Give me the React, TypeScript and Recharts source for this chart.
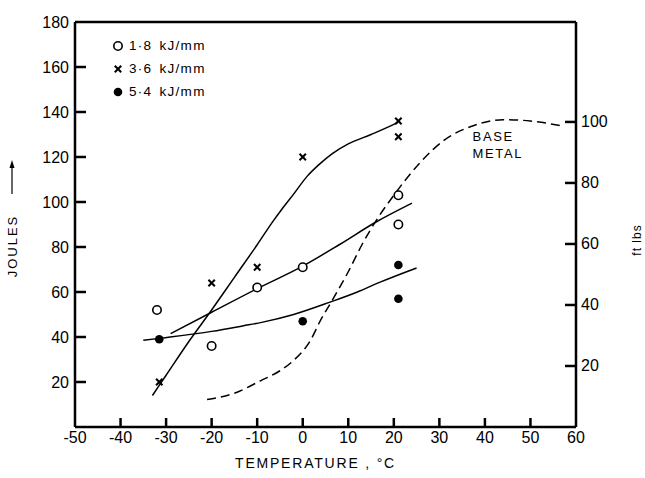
import React from 'react';
import { ComposedChart, Line, Scatter, XAxis, YAxis, ReferenceLine, ReferenceDot, Legend } from 'recharts';

const FONT = '"Liberation Sans", Arial, sans-serif';

const tempTicks = [-50, -40, -30, -20, -10, 0, 10, 20, 30, 40, 50, 60];
const jouleTicks = [20, 40, 60, 80, 100, 120, 140, 160, 180];
const ftlbTicks = [20, 40, 60, 80, 100];
const J_PER_FTLB = 1.3558;

// measured points
const open18X = [-32, -20, -10, 0, 21, 21];
const open18Y = [52, 36, 62, 71, 103, 90];
const cross36X = [-31.5, -20, -10, 0, 21, 21];
const cross36Y = [20, 64, 71, 120, 136, 129];
const dot54X = [-31.5, 0, 21, 21];
const dot54Y = [39, 47, 72, 57];

// fitted curves
const curve18X = [-29, -20, -10, 0, 8, 16, 24];
const curve18Y = [41.5, 51, 61.5, 71.5, 81, 91, 99.5];
const curve36X = [-33, -30, -25, -20, -15, -10, -6.5, -4.5, -2, 1, 3.5, 6.5, 10, 15, 20, 21];
const curve36Y = [14, 23, 38, 52, 66.5, 81, 91.5, 97, 103.5, 111.5, 116.5, 121.5, 125.8, 130, 134.5, 135.5];
const curve54X = [-35, -31, -20, -13, -9, -2, 6, 12, 17, 25];
const curve54Y = [38.5, 39.5, 42.5, 45, 46.5, 50, 55.5, 60, 64.4, 70.7];
const baseX = [-21, -15, -9.3, -5, -2, 1.7, 3.9, 6.1, 10, 13, 16.4, 20, 25.9, 31, 37.6, 44, 50, 57.4];
const baseY = [12.2, 15, 20.5, 25, 29.6, 38.5, 47.4, 55, 69, 81, 92.6, 103, 117.8, 127.4, 134, 136.6, 136, 133.6];

const legendLabels = ['1·8 kJ/mm', '3·6 kJ/mm', '5·4 kJ/mm'];
const legendKinds = ['open', 'cross', 'filled'];

const pts = (xs: number[], ys: number[]) => xs.map((x, i) => ({ x, y: ys[i] }));

const OpenMark = (p: any) => (
  <circle cx={p.cx} cy={p.cy} r={4.2} fill="#fff" stroke="#000" strokeWidth={1.6} />
);
const CrossMark = (p: any) => (
  <g stroke="#000" strokeWidth={2}>
    <line x1={p.cx - 3.2} y1={p.cy - 3.2} x2={p.cx + 3.2} y2={p.cy + 3.2} />
    <line x1={p.cx - 3.2} y1={p.cy + 3.2} x2={p.cx + 3.2} y2={p.cy - 3.2} />
  </g>
);
const FilledMark = (p: any) => <circle cx={p.cx} cy={p.cy} r={4.3} fill="#000" />;

const symbolFor = (kind: string) => {
  if (kind === 'open') return <OpenMark cx={6} cy={6} />;
  if (kind === 'cross') return <CrossMark cx={6} cy={6} />;
  return <FilledMark cx={6} cy={6} />;
};

const LegendContent = () => (
  <div style={{ fontFamily: FONT, fontSize: 13.5, color: '#000' }}>
    {legendLabels.map((lab, i) => (
      <div key={lab} style={{ display: 'flex', alignItems: 'center', height: 23 }}>
        <svg width={12} height={12}>{symbolFor(legendKinds[i])}</svg>
        <span style={{ marginLeft: 5, letterSpacing: 1.3, wordSpacing: 2 }}>{lab}</span>
      </div>
    ))}
  </div>
);

const TICK_FONT = 16;

const LeftTick = (p: any) => {
  const v = p.payload.value;
  return (
    <g>
      {v < 180 && <path d={`M ${p.x + 6} ${p.y} H ${p.x + 17}`} stroke="#000" strokeWidth={2.5} />}
      <text x={p.x} y={p.y} textAnchor="end" dominantBaseline="central" fontFamily={FONT}
        fontSize={TICK_FONT} fill="#000">{v}</text>
    </g>
  );
};

const RightTick = (p: any) => {
  const v = p.payload.value;
  return (
    <g>
      <path d={`M ${p.x - 5} ${p.y} H ${p.x - 16}`} stroke="#000" strokeWidth={2.5} />
      <text x={p.x} y={p.y} textAnchor="start" dominantBaseline="central" fontFamily={FONT}
        fontSize={TICK_FONT} fill="#000">{v}</text>
    </g>
  );
};

const BottomTick = (p: any) => {
  const v = p.payload.value;
  const inner = v > -50 && v < 60;
  return (
    <g>
      {inner && <path d={`M ${p.x} ${p.y - 4} V ${p.y - 13}`} stroke="#000" strokeWidth={2.5} />}
      <text x={p.x} y={p.y} dy="0.75em" textAnchor="middle" fontFamily={FONT} fontSize={TICK_FONT}
        fill="#000">{v < 0 ? `-${Math.abs(v)}` : `${v}`}</text>
    </g>
  );
};

const JoulesLabel = (props: any) => {
  const vb = props.viewBox || { x: 30, y: 22, width: 45, height: 405 };
  const x = vb.x - 18;
  const y = vb.y + 224;
  return (
    <g>
      <text x={x} y={y} transform={`rotate(-90 ${x} ${y})`} textAnchor="middle" dominantBaseline="central"
        fontFamily={FONT} fontSize={13} letterSpacing={2} fill="#000">JOULES</text>
      <line x1={x} y1={y - 52} x2={x} y2={y - 80} stroke="#000" strokeWidth={1.2} />
      <path d={`M ${x - 2.5} ${y - 78} L ${x} ${y - 86} L ${x + 2.5} ${y - 78} Z`} fill="#000" />
    </g>
  );
};

const FtLbLabel = (props: any) => {
  const vb = props.viewBox || { x: 576, y: 22, width: 40, height: 405 };
  const x = vb.x + 61;
  const y = vb.y + 218;
  return (
    <text x={x} y={y} transform={`rotate(-90 ${x} ${y})`} textAnchor="middle" dominantBaseline="central"
      fontFamily={FONT} fontSize={12} letterSpacing={1} fill="#000">ft  lbs</text>
  );
};

const TempLabel = (props: any) => {
  const vb = props.viewBox || { x: 75, y: 427, width: 501, height: 30 };
  const x = vb.x + vb.width / 2 - 10;
  const y = vb.y + 36;
  return (
    <text x={x} y={y} textAnchor="middle" dominantBaseline="central" fontFamily={FONT} fontSize={14}
      letterSpacing={1.8} fill="#000">TEMPERATURE ,  °C</text>
  );
};

const TextAt = (txt: string) => (props: any) => {
  const vb = props.viewBox;
  return (
    <text x={vb.x} y={vb.y} dominantBaseline="central" fontFamily={FONT} fontSize={13}
      letterSpacing={1.6} fill="#000">{txt}</text>
  );
};

const axisStroke = { stroke: '#000', strokeWidth: 2.5 };

export default function App() {
  return (
    <div style={{ position: 'absolute', left: 0, top: 0, background: '#fff' }}>
      <ComposedChart width={645} height={478} margin={{ top: 22, right: 29, bottom: 21, left: 30 }}>
        <XAxis type="number" dataKey="x" domain={[-50, 60]} ticks={tempTicks} interval={0}
          height={30} tick={<BottomTick />} axisLine={axisStroke} tickLine={false}
          tickSize={0} tickMargin={4} label={<TempLabel />} />
        <YAxis yAxisId="j" type="number" dataKey="y" domain={[0, 180]} ticks={jouleTicks} interval={0}
          width={45} tick={<LeftTick />} axisLine={axisStroke} tickLine={false}
          tickSize={0} tickMargin={6} label={<JoulesLabel />} />
        <YAxis yAxisId="ft" orientation="right" type="number" domain={[0, 180 / J_PER_FTLB]}
          ticks={ftlbTicks} interval={0} width={40} tick={<RightTick />} axisLine={axisStroke}
          tickLine={false} tickSize={0} tickMargin={5} allowDataOverflow label={<FtLbLabel />} />
        <ReferenceLine yAxisId="j" y={180} stroke="#000" strokeWidth={2.5} />

        <Line yAxisId="j" data={pts(curve18X, curve18Y)} dataKey="y" type="monotone" stroke="#000"
          strokeWidth={1.5} dot={false} isAnimationActive={false} legendType="none" />
        <Line yAxisId="j" data={pts(curve36X, curve36Y)} dataKey="y" type="monotone" stroke="#000"
          strokeWidth={1.5} dot={false} isAnimationActive={false} legendType="none" />
        <Line yAxisId="j" data={pts(curve54X, curve54Y)} dataKey="y" type="monotone" stroke="#000"
          strokeWidth={1.5} dot={false} isAnimationActive={false} legendType="none" />
        <Line yAxisId="j" data={pts(baseX, baseY)} dataKey="y" type="monotone" stroke="#000"
          strokeWidth={1.5} strokeDasharray="9 5" dot={false} isAnimationActive={false} legendType="none" />

        <Scatter yAxisId="j" data={pts(open18X, open18Y)} dataKey="y" shape={OpenMark} isAnimationActive={false} />
        <Scatter yAxisId="j" data={pts(cross36X, cross36Y)} dataKey="y" shape={CrossMark} isAnimationActive={false} />
        <Scatter yAxisId="j" data={pts(dot54X, dot54Y)} dataKey="y" shape={FilledMark} isAnimationActive={false} />

        <ReferenceDot yAxisId="j" x={37.3} y={129.2} r={0} stroke="none" label={TextAt('BASE')} />
        <ReferenceDot yAxisId="j" x={37.3} y={121.6} r={0} stroke="none" label={TextAt('METAL')} />

        <Legend layout="vertical" align="center" verticalAlign="middle" content={<LegendContent />}
          wrapperStyle={{ left: 112, top: 34, width: 'auto' }} />
      </ComposedChart>
    </div>
  );
}
